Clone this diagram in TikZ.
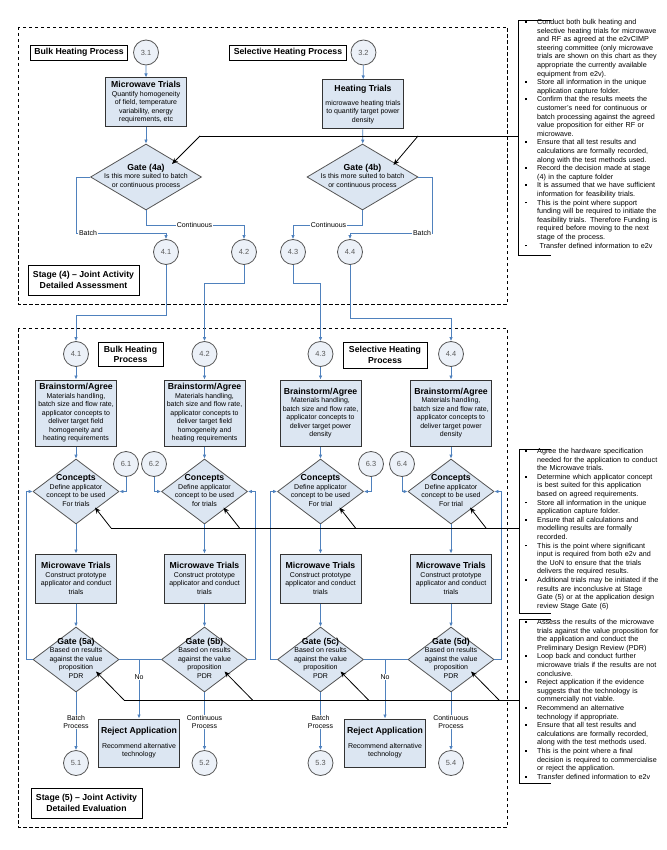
\documentclass[tikz,border=0pt]{standalone}
\usepackage{fontspec}
\setmainfont{Liberation Sans}
\usepackage{xcolor}
\usepackage{tikz}
\usetikzlibrary{
  arrows.meta,
  calc,
  positioning,
  shapes.geometric
}
\definecolor{boxfill}{RGB}{220,230,242}
\definecolor{reffill}{RGB}{236,241,248}
\definecolor{linkblue}{RGB}{79,129,189}
\definecolor{edgegray}{RGB}{85,85,85}
\newcommand{\bxfont}{\fontsize{7}{8.5}\selectfont}
\newcommand{\ttlfont}{\fontsize{8.7}{10}\selectfont\bfseries}
\newcommand{\hdfont}{\fontsize{8.7}{10.5}\selectfont\bfseries}
\newcommand{\rffont}{\fontsize{7.4}{9}\selectfont}
\newcommand{\ntfont}{\fontsize{7.2}{8.6}\selectfont}
\newcommand{\nbul}{\leavevmode\llap{\rule[1.7pt]{1.8pt}{1.8pt}\hspace{10pt}}}
\newcommand{\gatetxt}[2]{\makebox[0pt]{\begin{tabular}{@{}c@{}}{\ttlfont #1}\\#2\end{tabular}}}

\begin{document}
\begin{tikzpicture}[
  x=1pt, y=-1pt,
  procbox/.style={draw=black!80, line width=1pt, fill=boxfill, align=center,
               minimum width=81pt, inner sep=1pt, font=\bxfont},
  gate/.style={diamond, draw=edgegray, line width=0.8pt, fill=boxfill, inner sep=0pt,
               minimum width=86pt, minimum height=65pt, font=\bxfont},
  refcirc/.style={circle, draw=edgegray, line width=0.8pt, fill=reffill, minimum size=25pt,
               inner sep=0pt, font=\rffont, text=black!65},
  headbox/.style={draw, line width=0.8pt, fill=white, align=center, font=\hdfont, inner xsep=4pt},
  stagebox/.style={draw, dash pattern=on 3.5pt off 2.5pt, line width=0.7pt},
  arr/.style={-{Latex[length=4pt,width=3.6pt]}, linkblue, line width=0.8pt},
  link/.style={linkblue, line width=0.8pt},
  lbl/.style={fill=white, inner sep=0.6pt, font=\bxfont, align=center},
  noteline/.style={black, line width=0.8pt},
  note/.style={-{Stealth[length=6pt,width=5pt]}, black, line width=0.8pt},
  notes/.style={anchor=north west, inner sep=0pt, align=left, text width=130pt, font=\ntfont}
]
  \useasboundingbox (0,0) rectangle (666,850);

  \draw[stagebox] (18,27) rectangle (507,304);
  \draw[stagebox] (18,328) rectangle (507,827);

  % stage 4
  \node[headbox, minimum height=13pt] (bulk4) at (79,52.5) {Bulk Heating Process};
  \node[refcirc, right=5pt of bulk4] (c31) {3.1};
  \node[headbox, minimum height=13pt] (sel4) at (288,52.5) {Selective Heating Process};
  \node[refcirc, right=4pt of sel4] (c32) {3.2};

  \node[procbox, minimum height=49pt] (mw4) at (146,102.5) {{\ttlfont Microwave Trials}\\Quantify homogeneity\\of field, temperature\\variability, energy\\requirements, etc};
  \node[procbox, minimum height=49pt] (ht4) at (363,104.5) {{\ttlfont Heating Trials}\\[5pt]microwave heating trials\\to quantify target power\\density};

  \node[gate, minimum width=111pt, minimum height=66pt] (g4a) at (146,177) {\gatetxt{Gate (4a)}{Is this more suited to batch\\or continuous process}};
  \node[gate, minimum width=111pt, minimum height=66pt] (g4b) at (362.5,177) {\gatetxt{Gate (4b)}{Is this more suited to batch\\or continuous process}};

  \node[refcirc] (c41) at (166,252) {4.1};
  \node[refcirc] (c42) at (244,252) {4.2};
  \node[refcirc] (c43) at (293,252) {4.3};
  \node[refcirc] (c44) at (350,252) {4.4};

  \node[headbox, minimum width=111pt, minimum height=30pt] (st4) at (83.5,280) {Stage (4) – Joint Activity\\Detailed Assessment};

  % stage 5
  \node[refcirc] (d41) at (76,354) {4.1};
  \node[refcirc] (d42) at (204.5,354) {4.2};
  \node[refcirc] (d43) at (320.5,354) {4.3};
  \node[refcirc] (d44) at (451,354) {4.4};
  \node[headbox, minimum height=23pt, inner xsep=6pt] (bulk5) at (130.5,354.5) {Bulk Heating\\Process};
  \node[headbox, minimum height=26pt, inner xsep=6pt] (sel5) at (385,355) {Selective Heating\\Process};

  \node[procbox, minimum height=66pt] (bs1) at (76,413) {{\ttlfont Brainstorm/Agree}\\Materials handling,\\batch size and flow rate,\\applicator concepts to\\deliver target field\\homogeneity and\\heating requirements};
  \node[procbox, minimum height=66pt] (bs2) at (204.5,413) {{\ttlfont Brainstorm/Agree}\\Materials handling,\\batch size and flow rate,\\applicator concepts to\\deliver target field\\homogeneity and\\heating requirements};
  \node[procbox, minimum height=66pt] (bs3) at (320.5,413) {{\ttlfont Brainstorm/Agree}\\Materials handling,\\batch size and flow rate,\\applicator concepts to\\deliver target power\\density};
  \node[procbox, minimum height=66pt] (bs4) at (451,413) {{\ttlfont Brainstorm/Agree}\\Materials handling,\\batch size and flow rate,\\applicator concepts to\\deliver target power\\density};

  \node[refcirc] (r61) at (126,464) {6.1};
  \node[refcirc] (r62) at (154,464) {6.2};
  \node[refcirc] (r63) at (371,464) {6.3};
  \node[refcirc] (r64) at (402,464) {6.4};

  \node[gate] (cp1) at (76,491.5) {\gatetxt{Concepts}{Define applicator\\concept to be used\\For trials}};
  \node[gate] (cp2) at (204.5,491.5) {\gatetxt{Concepts}{Define applicator\\concept to be used\\for trials}};
  \node[gate] (cp3) at (320.5,491.5) {\gatetxt{Concepts}{Define applicator\\concept to be used\\For trial}};
  \node[gate] (cp4) at (451,491.5) {\gatetxt{Concepts}{Define applicator\\concept to be used\\For trial}};

  \node[procbox, minimum height=49pt] (mt1) at (76,578.5) {{\ttlfont Microwave Trials}\\Construct prototype\\applicator and conduct\\trials};
  \node[procbox, minimum height=49pt] (mt2) at (204.5,578.5) {{\ttlfont Microwave Trials}\\Construct prototype\\applicator and conduct\\trials};
  \node[procbox, minimum height=49pt] (mt3) at (320.5,578.5) {{\ttlfont Microwave Trials}\\Construct prototype\\applicator and conduct\\trials};
  \node[procbox, minimum height=49pt] (mt4) at (451,578.5) {{\ttlfont Microwave Trials}\\Construct prototype\\applicator and conduct\\trials};

  \node[gate] (g5a) at (76,659.5) {\gatetxt{Gate (5a)}{Based on results\\against the value\\proposition\\PDR}};
  \node[gate] (g5b) at (204.5,659.5) {\gatetxt{Gate (5b)}{Based on results\\against the value\\proposition\\PDR}};
  \node[gate] (g5c) at (320.5,659.5) {\gatetxt{Gate (5c)}{Based on results\\against the value\\proposition\\PDR}};
  \node[gate] (g5d) at (451,659.5) {\gatetxt{Gate (5d)}{Based on results\\against the value\\proposition\\PDR}};

  \node[procbox, minimum height=48pt] (rj1) at (139,743) {{\ttlfont Reject Application}\\[6pt]Recommend alternative\\technology};
  \node[procbox, minimum height=48pt] (rj2) at (385,743) {{\ttlfont Reject Application}\\[6pt]Recommend alternative\\technology};

  \node[refcirc] (e51) at (76,763) {5.1};
  \node[refcirc] (e52) at (204.5,763) {5.2};
  \node[refcirc] (e53) at (320.5,763) {5.3};
  \node[refcirc] (e54) at (451,763) {5.4};

  \node[headbox, minimum width=111pt, minimum height=30pt] (st5) at (86.5,803) {Stage (5) – Joint Activity\\Detailed Evaluation};

  % connectors stage 4
  \draw[arr] (c31) -- (mw4);
  \draw[arr] (mw4) -- (g4a);
  \draw[arr] (c32) -- (ht4);
  \draw[arr] (ht4) -- (g4b);
  \draw[arr] (g4a.west) -- ++(-14,0) |- ([yshift=6pt]c41.north) -- (c41.north);
  \draw[arr] (g4a.south) -- ++(0,15) -| (c42.north);
  \draw[arr] (g4b.south) -- ++(0,15) -| (c43.north);
  \draw[arr] (g4b.east) -- ++(14,0) |- ([yshift=6pt]c44.north) -- (c44.north);

  \draw[arr] (c41.south) -- ++(0,50) -| (d41.north);
  \draw[arr] (c42.south) -- ++(0,18) -| (d42.north);
  \draw[arr] (c43.south) -- ++(0,18) -| (d43.north);
  \draw[arr] (c44.south) -- ++(0,53) -| (d44.north);

  % connectors stage 5
  \draw[arr] (d41) -- (bs1);
  \draw[arr] (d42) -- (bs2);
  \draw[arr] (d43) -- (bs3);
  \draw[arr] (d44) -- (bs4);
  \draw[arr] (bs1) -- (cp1);
  \draw[arr] (bs2) -- (cp2);
  \draw[arr] (bs3) -- (cp3);
  \draw[arr] (bs4) -- (cp4);
  \draw[arr] (cp1) -- (mt1);
  \draw[arr] (cp2) -- (mt2);
  \draw[arr] (cp3) -- (mt3);
  \draw[arr] (cp4) -- (mt4);
  \draw[arr] (mt1) -- (g5a);
  \draw[arr] (mt2) -- (g5b);
  \draw[arr] (mt3) -- (g5c);
  \draw[arr] (mt4) -- (g5d);
  \draw[arr] (g5a) -- (e51);
  \draw[arr] (g5b) -- (e52);
  \draw[arr] (g5c) -- (e53);
  \draw[arr] (g5d) -- (e54);

  \draw[arr] (r61.south) |- (cp1.east);
  \draw[arr] (r62.south) |- (cp2.west);
  \draw[arr] (r63.south) |- (cp3.east);
  \draw[arr] (r64.south) |- (cp4.west);

  \draw[arr] (g5a.west) -- ++(-6,0) |- (cp1.west);
  \draw[arr] (g5b.east) -- ++(7,0) |- (cp2.east);
  \draw[arr] (g5c.west) -- ++(-7,0) |- (cp3.west);
  \draw[arr] (g5d.east) -- ++(7,0) |- (cp4.east);

  \draw[link] (g5a.east) -- (g5b.west);
  \draw[arr] (rj1.north |- g5a.east) -- (rj1.north);
  \draw[link] (g5c.east) -- (g5d.west);
  \draw[arr] (rj2.north |- g5c.east) -- (rj2.north);

  % labels
  \node[lbl] (lb1) at (88,233) {Batch};
  \node[lbl] (lb2) at (194.5,225) {Continuous};
  \node[lbl] (lb3) at (328.5,225) {Continuous};
  \node[lbl] (lb4) at (422,233) {Batch};
  \node[lbl] (lb5) at (76,722) {Batch\\Process};
  \node[lbl] (lb6) at (204.5,722) {Continuous\\Process};
  \node[lbl] (lb7) at (320.5,722) {Batch\\Process};
  \node[lbl] (lb8) at (451,722) {Continuous\\Process};
  \node[lbl] (lb9) at (139,677) {No};
  \node[lbl] (lb10) at (385,677) {No};

  % notes
  \node[notes] (nt1) at (537,19) {\nbul Conduct both bulk heating and\\selective heating trials for microwave\\and RF as agreed at the e2vCIMP\\steering committee (only microwave\\trials are shown on this chart as they\\appropriate the currently available\\equipment from e2v).\\
    \nbul Store all information in the unique\\application capture folder.\\
    \nbul Confirm that the results meets the\\customer's need for continuous or\\batch processing against the agreed\\value proposition for either RF or\\microwave.\\
    \nbul Ensure that all test results and\\calculations are formally recorded,\\along with the test methods used.\\
    \nbul Record the decision made at stage\\(4) in the capture folder\\
    \nbul It is assumed that we have sufficient\\information for feasibility trials.\\
    \nbul This is the point where support\\funding will be required to initiate the\\feasibility trials. Therefore Funding is\\required before moving to the next\\stage of the process.\\
    \nbul \ Transfer defined information to e2v};
  \node[notes] (nt2) at (537,448) {\nbul Agree the hardware specification\\needed for the application to conduct\\the Microwave trials.\\
    \nbul Determine which applicator concept\\is best suited for this application\\based on agreed requirements.\\
    \nbul Store all information in the unique\\application capture folder.\\
    \nbul Ensure that all calculations and\\modelling results are formally\\recorded.\\
    \nbul This is the point where significant\\input is required from both e2v and\\the UoN to ensure that the trials\\delivers the required results.\\
    \nbul Additional trials may be initiated if the\\results are inconclusive at Stage\\Gate (5) or at the application design\\review Stage Gate (6)};
  \node[notes] (nt3) at (537,619) {\nbul Assess the results of the microwave\\trials against the value proposition for\\the application and conduct the\\Preliminary Design Review (PDR)\\
    \nbul Loop back and conduct further\\microwave trials if the results are not\\conclusive.\\
    \nbul Reject application if the evidence\\suggests that the technology is\\commercially not viable.\\
    \nbul Recommend an alternative\\technology if appropriate.\\
    \nbul Ensure that all test results and\\calculations are formally recorded,\\along with the test methods used.\\
    \nbul This is the point where a final\\decision is required to commercialise\\or reject the application.\\
    \nbul Transfer defined information to e2v};

  \draw[noteline] (551,20) -| (518,255) -- (551,255);
  \draw[noteline] (551,449) -| (519,613) -- (551,613);
  \draw[noteline] (551,619) -| (519,783) -- (551,783);

  \coordinate (k1) at (518,136);
  \coordinate (k2) at (519,528);
  \coordinate (k3) at (519,700);
  \coordinate (n1a) at (200,136);
  \coordinate (n1b) at (418,136);

  \draw[noteline] (k1) -- (n1a);
  \draw[note] (n1a) -- ($(g4a)+(26,-13)$);
  \draw[note] (n1b) -- ($(g4b)+(31,-12)$);

  \draw[noteline] (k2) -- ($(cp1 |- k2)+(35,0)$);
  \draw[note] ($(cp1 |- k2)+(35,0)$) -- ($(cp1)+(19,16)$);
  \draw[note] ($(cp2 |- k2)+(35,0)$) -- ($(cp2)+(19,16)$);
  \draw[note] ($(cp3 |- k2)+(35,0)$) -- ($(cp3)+(19,16)$);
  \draw[note] ($(cp4 |- k2)+(35,0)$) -- ($(cp4)+(19,16)$);

  \draw[noteline] (k3) -- ($(g5a |- k3)+(48,0)$);
  \draw[note] ($(g5a |- k3)+(48,0)$) -- ($(g5a)+(20,12)$);
  \draw[note] ($(g5b |- k3)+(48,0)$) -- ($(g5b)+(20,12)$);
  \draw[note] ($(g5c |- k3)+(48,0)$) -- ($(g5c)+(20,12)$);
  \draw[note] ($(g5d |- k3)+(48,0)$) -- ($(g5d)+(20,12)$);
\end{tikzpicture}
\end{document}
